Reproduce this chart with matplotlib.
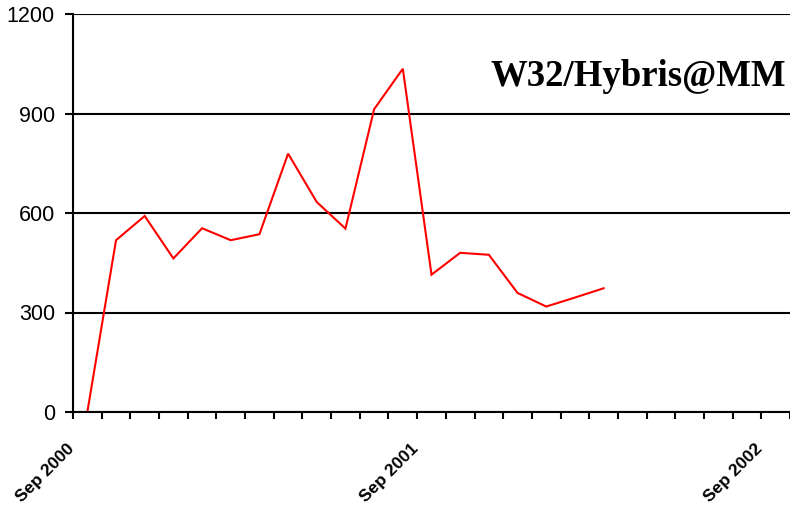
import numpy as np
import matplotlib
matplotlib.use("Agg")
import matplotlib.pyplot as plt
from matplotlib.transforms import ScaledTranslation

# monthly report counts, 25 month slots on the axis, data for the first 19
n_slots = 25
counts = [0, 518, 591, 463, 554, 518, 536, 779, 633, 553,
          913, 1035, 414, 480, 474, 359, 318, 345, 373]
label_slots = [0, 12, 24]
label_text = ["Sep 2000", "Sep 2001", "Sep 2002"]
y_ticks = [0, 300, 600, 900, 1200]
title = "W32/Hybris@MM"

fig = plt.figure(figsize=(7.9, 5.08), dpi=100)
ax = fig.add_axes([73 / 790, 96 / 508, 717 / 790, 398 / 508])

x = np.arange(len(counts))
ax.plot(x, counts, color="#ff0000", linewidth=1.5, solid_joinstyle="miter", zorder=3)

ax.set_xlim(-0.5, n_slots - 0.5)
ax.set_ylim(0, 1200)

# category boundaries carry the tick marks
ax.set_xticks(np.arange(n_slots + 1) - 0.5)
ax.set_xticklabels([])
ax.tick_params(axis="x", length=5, width=1.5, color="black")

# month labels under the slot centres, slanted
offset = ScaledTranslation(-21 / 100, -29 / 100, fig.dpi_scale_trans)
for slot, txt in zip(label_slots, label_text):
    ax.text(slot, 0, txt, transform=ax.get_xaxis_transform() + offset,
            rotation=45, rotation_mode="anchor", ha="right", va="top",
            fontsize=12.5, fontweight="bold", family="Liberation Sans")

ax.set_yticks(y_ticks)
ax.set_yticklabels([str(v) for v in y_ticks], fontsize=15.5, family="Liberation Sans")
ax.tick_params(axis="y", length=6, width=1.5, color="black", pad=7)

ax.yaxis.grid(True, color="black", linewidth=1.5)
ax.set_axisbelow(True)

for side in ["top", "right"]:
    ax.spines[side].set_visible(False)
for side in ["left", "bottom"]:
    ax.spines[side].set_linewidth(1.5)
    ax.spines[side].set_zorder(4)

fig.text(786 / 790, 1 - 77 / 508, title, ha="right", va="center",
         fontsize=26.5, fontweight="bold", family="Liberation Serif")

fig.savefig("out.png", dpi=100)
